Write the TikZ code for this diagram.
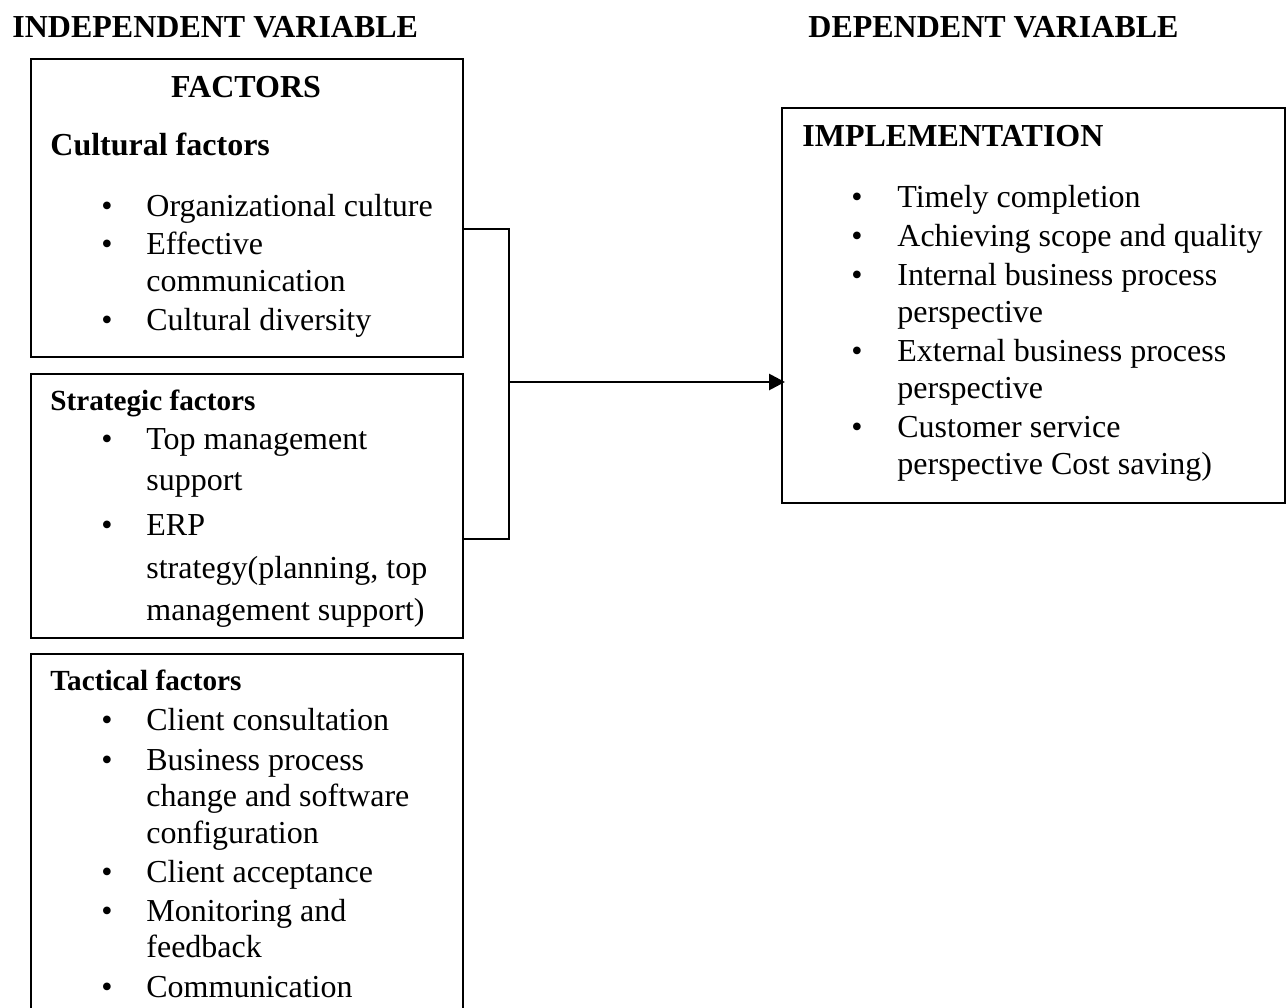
\documentclass[tikz,border=0pt]{standalone}
\usepackage{fontspec}
\setmainfont{Liberation Serif}
\usetikzlibrary{calc, arrows.meta, positioning}

\begin{document}
\begin{tikzpicture}[x=0.5pt,y=-0.5pt,
	every node/.style={inner sep=0pt,anchor=base west,font=\fontsize{16}{19}\selectfont},
	box/.style={draw,line width=1pt,minimum width=216pt,anchor=north west},
	head/.style={font=\fontsize{16}{19}\selectfont\bfseries},
	subhead/.style={font=\fontsize{14.6}{17}\selectfont\bfseries},
	dot/.style={anchor=base}]
	\useasboundingbox (0,0) rectangle (1287,1008);
	% titles
	\node[head] (indep) at (12,37) {INDEPENDENT VARIABLE};
	\node[head] (dep) at (808,37) {DEPENDENT VARIABLE};
	% boxes
	\node[box,minimum height=149pt] (cultbox) at (30,58) {};
	\node[box,minimum height=132pt] (stratbox) at (30,373) {};
	\node[box,minimum height=200pt] (tactbox) at (30,653) {};
	\node[box,minimum width=251.5pt,minimum height=197.5pt] (implbox) at (781,107) {};
	% cultural factors
	\node[head,anchor=base] (factors) at (246,97) {FACTORS};
	\node[head] (cult) at (50,155) {Cultural factors};
	\node[dot] (cb1) at (107,216) {•};
	\node (c1) at (146,216) {Organizational culture};
	\node[dot] (cb2) at (107,254) {•};
	\node (c2) at (146,254) {Effective};
	\node (c3) at (146,291) {communication};
	\node[dot] (cb3) at (107,330) {•};
	\node (c4) at (146,330) {Cultural diversity};
	% strategic factors
	\node[subhead] (strat) at (50,410) {Strategic factors};
	\node[dot] (sb1) at (107,449) {•};
	\node (s1) at (146,449) {Top management};
	\node (s2) at (146,490) {support};
	\node[dot] (sb2) at (107,535) {•};
	\node (s3) at (146,535) {ERP};
	\node (s4) at (146,578) {strategy(planning, top};
	\node (s5) at (146,620) {management support)};
	% tactical factors
	\node[subhead] (tact) at (50,690) {Tactical factors};
	\node[dot] (tb1) at (107,730) {•};
	\node (t1) at (146,730) {Client consultation};
	\node[dot] (tb2) at (107,770) {•};
	\node (t2) at (146,770) {Business process};
	\node (t3) at (146,806) {change and software};
	\node (t4) at (146,843) {configuration};
	\node[dot] (tb3) at (107,882) {•};
	\node (t5) at (146,882) {Client acceptance};
	\node[dot] (tb4) at (107,921) {•};
	\node (t6) at (146,921) {Monitoring and};
	\node (t7) at (146,957) {feedback};
	\node[dot] (tb5) at (107,997) {•};
	\node (t8) at (146,997) {Communication};
	% implementation
	\node[head] (impl) at (802,146) {IMPLEMENTATION};
	\node[dot] (ib1) at (857,207) {•};
	\node (i1) at (897,207) {Timely completion};
	\node[dot] (ib2) at (857,246) {•};
	\node (i2) at (897,246) {Achieving scope and quality};
	\node[dot] (ib3) at (857,285) {•};
	\node (i3) at (897,285) {Internal business process};
	\node (i4) at (897,322) {perspective};
	\node[dot] (ib4) at (857,361) {•};
	\node (i5) at (897,361) {External business process};
	\node (i6) at (897,398) {perspective};
	\node[dot] (ib5) at (857,437) {•};
	\node (i7) at (897,437) {Customer service};
	\node (i8) at (897,474) {perspective Cost saving)};
	% connectors
	\coordinate (jtop) at (509,229);
	\coordinate (jbot) at (509,539);
	\coordinate (jmid) at (509,382);
	\draw[line width=1pt] (cultbox.east |- jtop) -- (jtop) -- (jbot) -- (stratbox.east |- jbot);
	\draw[line width=1.4pt,-{Triangle[length=8pt,width=8pt]}] (jmid) -- ([xshift=2pt]implbox.west |- jmid);
\end{tikzpicture}
\end{document}
